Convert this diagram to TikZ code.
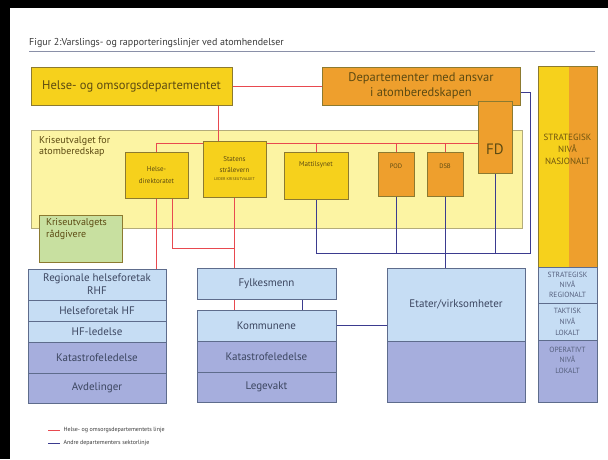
\documentclass[tikz,border=0pt]{standalone}
\usepackage{fontspec}
\setmainfont{PT Sans}
\usetikzlibrary{positioning}

\definecolor{gul}{HTML}{F6D11C}
\definecolor{oransje}{HTML}{EE9F2D}
\definecolor{lysgul}{HTML}{FCF4A3}
\definecolor{lysgulkant}{HTML}{B4AC7A}
\definecolor{gronn}{HTML}{C8E0A0}
\definecolor{lysbla}{HTML}{C6DDF4}
\definecolor{morkbla}{HTML}{A6AEDD}
\definecolor{gulkant}{HTML}{8C7A30}
\definecolor{blakant}{HTML}{5E6C8C}
\definecolor{gultekst}{HTML}{5C4A12}
\definecolor{blatekst}{HTML}{3C4660}
\definecolor{nivagul}{HTML}{6E5410}
\definecolor{nivabla}{HTML}{56607E}
\definecolor{rod}{HTML}{E8494F}
\definecolor{bla}{HTML}{3B3B8F}
\definecolor{tittel}{HTML}{3A3A3A}
\definecolor{strek}{HTML}{8A90A8}

\pgfdeclarelayer{bg}
\pgfdeclarelayer{lines}
\pgfsetlayers{bg,lines,main}

\tikzset{
  box/.style={draw, inner sep=0pt, outer sep=0pt, align=center, line width=0.9pt, anchor=north west},
  gulbox/.style={box, fill=gul, draw=gulkant, text=gultekst},
  oransjebox/.style={box, fill=oransje, draw=gulkant, text=gultekst},
  blabox/.style={box, fill=lysbla, draw=blakant, text=blatekst, font=\fontsize{11}{13}\selectfont},
  morkbox/.style={box, fill=morkbla, draw=blakant, text=blatekst, font=\fontsize{11}{13}\selectfont},
  lbl/.style={inner sep=0pt, align=center, text=gultekst},
  rodlinje/.style={draw=rod, line width=1pt},
  blalinje/.style={draw=bla, line width=1pt},
}

\begin{document}
\begin{tikzpicture}[x=1pt,y=-1pt]
  \useasboundingbox (0,0) rectangle (608,459);

  % Bakgrunn og Kriseutvalget
  \begin{pgfonlayer}{bg}
    \fill[white] (0,0) rectangle (608,459);
    \node[box, fill=lysgul, draw=lysgulkant, line width=0.6pt, minimum width=491pt, minimum height=98pt] (krise) at (31,130) {};
  \end{pgfonlayer}

  % Ramme
  \fill[black] (0,0) rectangle (608,8);
  \fill[black] (0,0) rectangle (10,459);

  % Tittel
  \node[anchor=west, inner sep=0pt, text=tittel, font=\fontsize{10}{12}\selectfont] (tittel) at (29,43)
    {Figur 2:Varslings- og rapporteringslinjer ved atomhendelser};
  \draw[strek, line width=0.8pt] (29,51) -- (595,51);

  % Departementer
  \node[gulbox, minimum width=201pt, minimum height=38pt, font=\fontsize{12.5}{15}\selectfont] (hod) at (31,67)
    {Helse- og omsorgsdepartementet};
  \node[oransjebox, minimum width=198pt, minimum height=38pt, font=\fontsize{12.5}{15}\selectfont] (dep) at (322,67)
    {Departementer med ansvar\\i atomberedskapen};

  \node[anchor=north west, inner sep=0pt, align=left, text=gultekst, font=\fontsize{10}{11.5}\selectfont] (kriseTxt) at (39,136)
    {Kriseutvalget for\\atomberedskap};

  \node[oransjebox, minimum width=34pt, minimum height=72pt, label={[lbl, yshift=-12pt, font=\fontsize{15}{16}\selectfont]center:FD}] (fd) at (478,101) {};
  \node[gulbox, minimum width=63pt, minimum height=46pt, font=\fontsize{7}{12}\selectfont] (helsedir) at (125,152)
    {Helse-\\direktoratet};
  \node[gulbox, minimum width=63pt, minimum height=56pt, font=\fontsize{7}{10.5}\selectfont] (statens) at (203,141)
    {Statens\\strålevern\\[-2pt]{\fontsize{4}{5}\selectfont LEDER KRISEUTVALGET}};
  \node[gulbox, minimum width=64pt, minimum height=47pt, label={[lbl, yshift=10.5pt, font=\fontsize{7}{8}\selectfont]center:Mattilsynet}] (mattil) at (284,152) {};
  \node[oransjebox, minimum width=36pt, minimum height=44pt, label={[lbl, yshift=8pt, font=\fontsize{6.5}{8}\selectfont]center:POD}] (pod) at (378,152) {};
  \node[oransjebox, minimum width=36pt, minimum height=44pt, label={[lbl, yshift=8pt, font=\fontsize{6.5}{8}\selectfont]center:DSB}] (dsb) at (427,152) {};

  \node[box, fill=gronn, draw=gulkant, minimum width=83pt, minimum height=47pt,
        label={[lbl, anchor=north west, align=left, xshift=7pt, yshift=-3pt, font=\fontsize{10}{12}\selectfont]north west:Kriseutvalgets\\rådgivere}] (raad) at (39,215) {};

  % Helseforetak
  \node[blabox, minimum width=138pt, minimum height=31pt] (rhf) at (28,269) {Regionale helseforetak\\RHF};
  \node[blabox, minimum width=138pt, minimum height=21pt, below=0pt of rhf] (hf) {Helseforetak HF};
  \node[blabox, minimum width=138pt, minimum height=21pt, below=0pt of hf] (hfled) {HF-ledelse};
  \node[morkbox, minimum width=138pt, minimum height=31pt, below=0pt of hfled] (katA) {Katastrofeledelse};
  \node[morkbox, minimum width=138pt, minimum height=30pt, below=0pt of katA] (avd) {Avdelinger};

  % Fylke og kommune
  \node[blabox, minimum width=139pt, minimum height=31pt] (fylke) at (197,268) {Fylkesmenn};
  \node[blabox, minimum width=139pt, minimum height=31pt] (komm) at (197,310) {Kommunene};
  \node[morkbox, minimum width=139pt, minimum height=31pt, below=0pt of komm] (katB) {Katastrofeledelse};
  \node[morkbox, minimum width=139pt, minimum height=30pt, below=0pt of katB] (lege) {Legevakt};

  % Etater
  \node[blabox, minimum width=138pt, minimum height=73pt] (etater) at (387,268) {Etater/virksomheter};
  \node[morkbox, minimum width=138pt, minimum height=61pt, below=0pt of etater] (etaterB) {};

  % Nivaer
  \node[box, fill=oransje, draw=gulkant, minimum width=59pt, minimum height=201pt,
        path picture={\fill[gul] (path picture bounding box.north west) rectangle ([xshift=-28pt]path picture bounding box.south east);},
        label={[lbl, yshift=17.5pt, text=nivagul, font=\fontsize{9}{12}\selectfont]center:STRATEGISK\\NIVÅ\\NASJONALT}] (nasj) at (538,66) {};
  \node[box, fill=lysbla, draw=blakant, minimum width=59pt, minimum height=36pt, text=nivabla, font=\fontsize{7.5}{10}\selectfont] (reg) at (538,267)
    {STRATEGISK\\NIVÅ\\REGIONALT};
  \node[box, fill=lysbla, draw=blakant, minimum width=59pt, minimum height=37pt, text=nivabla, font=\fontsize{7.5}{11}\selectfont, below=0pt of reg] (takt)
    {TAKTISK\\NIVÅ\\LOKALT};
  \node[box, fill=morkbla, draw=blakant, minimum width=59pt, minimum height=62pt, below=0pt of takt,
        label={[lbl, yshift=11pt, text=nivabla, font=\fontsize{7.5}{10.5}\selectfont]center:OPERATIVT\\NIVÅ\\LOKALT}] (oper) {};

  % Linjer
  \begin{pgfonlayer}{lines}
    \coordinate (rbus) at ([yshift=-6pt]fd.west);
    \coordinate (rknee) at (234.5,248);
    \coordinate (bbus) at (530,253);
    % helse
    \draw[rodlinje] (hod.east) -- (dep.west);
    \draw[rodlinje] ([xshift=-16.5pt]statens.north) -- ([xshift=-16.5pt]statens.north |- hod.south);
    \draw[rodlinje] (helsedir.north) |- (rbus);
    \foreach \n in {mattil,pod,dsb}
      \draw[rodlinje] (\n.north) -- (\n.north |- rbus);
    \draw[rodlinje] (helsedir.south) -- (helsedir.south |- rhf.north);
    \draw[rodlinje] ([xshift=15.5pt]helsedir.south) |- (rknee);
    \draw[rodlinje] (statens.south) -- (statens.south |- fylke.north);
    \draw[rodlinje] (statens.south |- fylke.south) -- (statens.south |- komm.north);
    % sektor
    \draw[blalinje] ([yshift=-6pt]dep.east) -| (bbus) -- (bbus -| mattil.south) -- (mattil.south);
    \draw[blalinje] (pod.south) -- (pod.south |- bbus);
    \draw[blalinje] (fd.south) -- (fd.south |- bbus);
    \draw[blalinje] (dsb.south) -- (dsb.south |- etater.north);
    \draw[blalinje] ([xshift=35.5pt]fylke.south) -- ([xshift=35.5pt]komm.north);
    \draw[blalinje] (komm.east) -- (komm.east -| etater.west);
  \end{pgfonlayer}

  % Forklaring
  \coordinate (legR) at (48,430);
  \coordinate (legB) at (48,443);
  \draw[rodlinje] (legR) -- ++(12,0) node[anchor=west, inner sep=0pt, xshift=3pt, text=tittel, font=\fontsize{6}{7}\selectfont] (legRtxt)
    {Helse- og omsorgsdepartementets linje};
  \draw[blalinje] (legB) -- ++(12,0) node[anchor=west, inner sep=0pt, xshift=3pt, text=tittel, font=\fontsize{6}{7}\selectfont] (legBtxt)
    {Andre departementers sektorlinje};
\end{tikzpicture}
\end{document}
